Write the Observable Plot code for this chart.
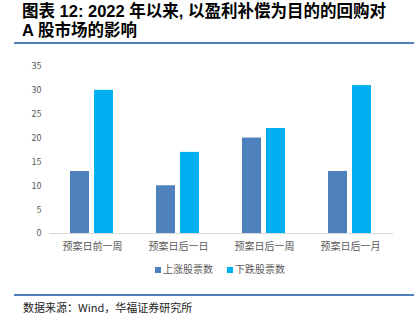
<!DOCTYPE html>
<html><head><meta charset="utf-8">
<script src="https://cdn.jsdelivr.net/npm/d3@7"></script>
<script src="https://cdn.jsdelivr.net/npm/@observablehq/plot@0.6"></script>
<style>
body{margin:0;width:419px;height:324px;background:#fff;position:relative;overflow:hidden;font-family:"Noto Sans CJK SC",sans-serif;}
.title{position:absolute;left:22px;font-size:16.5px;font-weight:700;line-height:18px;color:#000;white-space:nowrap;font-family:"Liberation Sans","Noto Sans CJK SC",sans-serif;}
.rule{position:absolute;left:14px;width:400px;height:1.5px;background:#4F81BD;}
#chart{position:absolute;left:0;top:40px;}
#legend{position:absolute;top:261px;left:155px;font-size:10px;color:#595959;display:flex;gap:14px;align-items:center;}
#legend span.sw{display:inline-block;width:6px;height:6px;margin-right:2px;vertical-align:middle;}
#caption{position:absolute;left:23px;top:299px;font-size:11px;color:#222;font-family:"Noto Sans CJK SC",serif;}
</style></head>
<body>
<div class="title" style="top:2px">图表 12: 2022 年以来, 以盈利补偿为目的的回购对</div>
<div class="title" style="top:21px">A 股市场的影响</div>
<div class="rule" style="top:42px"></div>
<div id="chart"></div>
<div id="legend"></div>
<div class="rule" style="top:294px"></div>
<div id="caption">数据来源：Wind，华福证券研究所</div>
<script>
const categories = ["预案日前一周","预案日后一日","预案日后一周","预案日后一月"];
const series = ["上涨股票数","下跌股票数"];
const upValues = [13,10,20,13];
const downValues = [30,17,22,31];
const yTicks = [0,5,10,15,20,25,30,35];
const colors = ["#4F81BD","#00B0F0"];

const data = [];
categories.forEach((c,i)=>{
  data.push({cat:c, s:series[0], v:upValues[i]});
  data.push({cat:c, s:series[1], v:downValues[i]});
});

const chart = Plot.plot({
  width:419, height:240,
  marginLeft:48, marginRight:25, marginTop:26, marginBottom:47,
  style:{fontFamily:"Noto Sans CJK SC, sans-serif", fontSize:"9px", color:"#595959", background:"transparent"},
  fx:{domain:categories, padding:0, label:null},
  x:{domain:series, paddingInner:0.2, paddingOuter:0.83, axis:null},
  y:{domain:[0,35], label:null},
  color:{domain:series, range:colors},
  marks:[
    Plot.axisY({ticks:yTicks, tickSize:0, tickPadding:8, label:null, fontSize:9, tickFormat:d3.format("d")}),
    Plot.axisFx({anchor:"bottom", tickSize:0, tickPadding:9, label:null, fontSize:10}),
    Plot.ruleY([0],{stroke:"#d9d9d9", strokeWidth:1}),
    Plot.barY(data,{fx:"cat", x:"s", y:"v", fill:"s"})
  ]
});
document.getElementById("chart").appendChild(chart);

const lg = document.getElementById("legend");
series.forEach((s,i)=>{
  const d = document.createElement("div");
  d.innerHTML = `<span class="sw" style="background:${colors[i]}"></span>${s}`;
  lg.appendChild(d);
});
</script>
</body></html>
